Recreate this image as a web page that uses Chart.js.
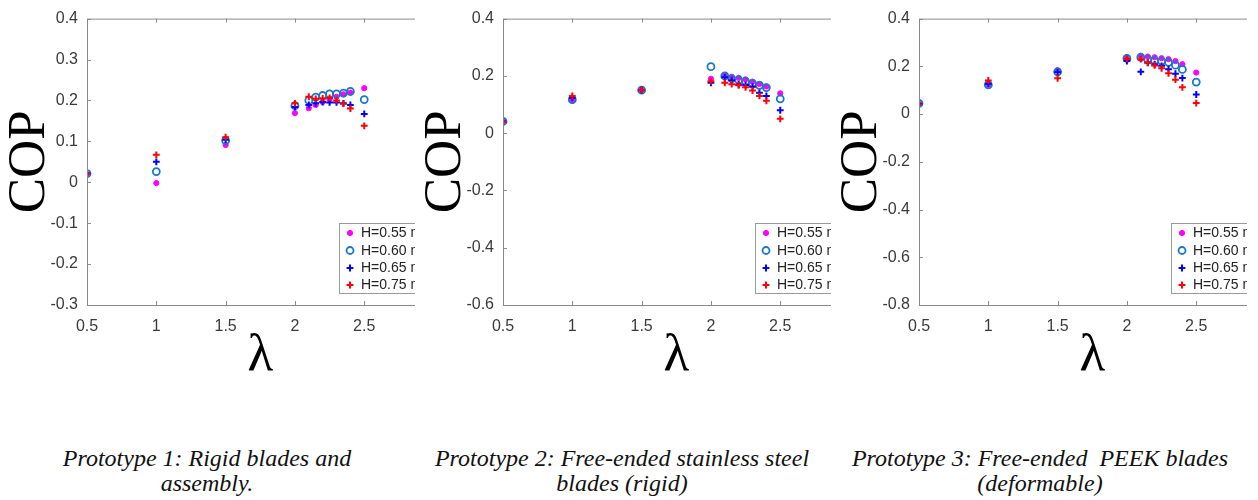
<!DOCTYPE html>
<html>
<head>
<meta charset="utf-8">
<script src="https://cdn.jsdelivr.net/npm/chart.js@4.4.1/dist/chart.umd.min.js"></script>
<style>
  html, body { margin: 0; padding: 0; background: #fff; }
  body { width: 1258px; height: 500px; position: relative; overflow: hidden; }
  .panel { position: absolute; top: 0; height: 400px; overflow: hidden; }
  .panel canvas { position: absolute; left: 0; top: 0; }
  .cap { position: absolute; font-family: "Liberation Serif", "Times New Roman", serif; font-style: italic;
         font-size: 24px; line-height: 25px; text-align: center; color: #111; white-space: pre; }
</style>
</head>
<body>
<div class="panel" id="p1" style="left:0px;width:415px;"><canvas id="c1" width="450" height="400"></canvas></div>
<div class="panel" id="p2" style="left:416px;width:415px;"><canvas id="c2" width="450" height="400"></canvas></div>
<div class="panel" id="p3" style="left:832px;width:415px;"><canvas id="c3" width="450" height="400"></canvas></div>

<div class="cap" style="left:-43px;top:446px;width:500px;">Prototype 1: Rigid blades and
assembly.</div>
<div class="cap" style="left:372px;top:446px;width:500px;">Prototype 2: Free-ended stainless steel
blades (rigid)</div>
<div class="cap" style="left:790px;top:446px;width:500px;">Prototype 3: Free-ended  PEEK blades
(deformable)</div>

<script>
// ---- data ----
const lambdas = [0.5, 1, 1.5, 2, 2.1, 2.15, 2.2, 2.25, 2.3, 2.35, 2.4, 2.5];
const seriesNames = ["H=0.55 m", "H=0.60 m", "H=0.65 m", "H=0.75 m"];

// Prototype 1
const p1_H055 = [0.020, -0.002, 0.091, 0.169, 0.181, 0.189, 0.196, 0.203, 0.209, 0.215, 0.219, 0.230];
const p1_H060 = [0.021, 0.026, 0.102, 0.187, 0.200, 0.208, 0.212, 0.216, 0.216, 0.218, 0.222, 0.202];
const p1_H065 = [0.022, 0.050, 0.104, 0.184, 0.189, 0.193, 0.196, 0.195, 0.195, 0.193, 0.189, 0.167];
const p1_H075 = [0.022, 0.067, 0.110, 0.193, 0.209, 0.204, 0.205, 0.206, 0.200, 0.192, 0.180, 0.138];

// Prototype 2
const p2_H055 = [0.041, 0.113, 0.151, 0.190, 0.203, 0.197, 0.193, 0.188, 0.180, 0.172, 0.163, 0.139];
const p2_H060 = [0.041, 0.117, 0.150, 0.232, 0.200, 0.190, 0.186, 0.181, 0.174, 0.167, 0.159, 0.120];
const p2_H065 = [0.041, 0.123, 0.150, 0.176, 0.195, 0.185, 0.170, 0.168, 0.162, 0.141, 0.130, 0.080];
const p2_H075 = [0.040, 0.130, 0.151, 0.181, 0.176, 0.171, 0.167, 0.160, 0.149, 0.130, 0.113, 0.050];

// Prototype 3
const p3_H055 = [0.043, 0.123, 0.184, 0.238, 0.244, 0.241, 0.238, 0.234, 0.230, 0.222, 0.209, 0.174];
const p3_H060 = [0.045, 0.122, 0.177, 0.233, 0.238, 0.230, 0.224, 0.222, 0.217, 0.205, 0.187, 0.134];
const p3_H065 = [0.043, 0.127, 0.175, 0.222, 0.177, 0.215, 0.208, 0.202, 0.188, 0.169, 0.151, 0.082];
const p3_H075 = [0.040, 0.141, 0.150, 0.231, 0.230, 0.216, 0.204, 0.192, 0.171, 0.144, 0.112, 0.046];

// tick labels
const xTicks = [0.5, 1, 1.5, 2, 2.5, 3];
const yTicks1 = [-0.3, -0.2, -0.1, 0, 0.1, 0.2, 0.3, 0.4];
const yTicks2 = [-0.6, -0.4, -0.2, 0, 0.2, 0.4];
const yTicks3 = [-0.8, -0.6, -0.4, -0.2, 0, 0.2, 0.4];

// ---- styles ----
const AXIS = '#8a8a8a';
const LABEL = '#3a3a3a';
const styles = [
  { pointStyle: 'circle', pointRadius: 2.6, backgroundColor: '#ff00ff', borderColor: '#ff00ff', pointBorderWidth: 1, order: 3 },
  { pointStyle: 'circle', pointRadius: 3.5, backgroundColor: 'rgba(0,0,0,0)', borderColor: '#1a78c2', pointBorderWidth: 1.8, order: 2 },
  { pointStyle: 'cross', pointRadius: 3.4, backgroundColor: '#0000ff', borderColor: '#0000ff', pointBorderWidth: 2, order: 1 },
  { pointStyle: 'cross', pointRadius: 3.4, backgroundColor: '#ff0000', borderColor: '#ff0000', pointBorderWidth: 2, order: 0 }
];

const fmt = v => String(+(+v).toFixed(1));

const boxPlugin = {
  id: 'matlabBox',
  afterDatasetsDraw(chart) {
    const { ctx, chartArea: a, scales } = chart;
    ctx.save();
    ctx.strokeStyle = AXIS;
    ctx.lineWidth = 1;
    ctx.beginPath();
    ctx.moveTo(a.left + 0.5, a.top + 0.5); ctx.lineTo(a.right + 0.5, a.top + 0.5);
    ctx.moveTo(a.left + 0.5, a.top + 0.5); ctx.lineTo(a.left + 0.5, a.bottom + 0.5);
    ctx.moveTo(a.left + 0.5, a.bottom + 0.5); ctx.lineTo(a.right + 0.5, a.bottom + 0.5);
    ctx.moveTo(a.right + 0.5, a.top + 0.5); ctx.lineTo(a.right + 0.5, a.bottom + 0.5);
    const tl = 4;
    scales.x.ticks.forEach(t => {
      const px = Math.round(scales.x.getPixelForValue(t.value)) + 0.5;
      ctx.moveTo(px, a.bottom); ctx.lineTo(px, a.bottom - tl);
      ctx.moveTo(px, a.top); ctx.lineTo(px, a.top + tl);
    });
    scales.y.ticks.forEach(t => {
      const py = Math.round(scales.y.getPixelForValue(t.value)) + 0.5;
      ctx.moveTo(a.left, py); ctx.lineTo(a.left + tl, py);
      ctx.moveTo(a.right, py); ctx.lineTo(a.right - tl, py);
    });
    ctx.stroke();
    ctx.restore();
  }
};

const legendPlugin = {
  id: 'insideLegend',
  afterDraw(chart) {
    const { ctx, chartArea: a } = chart;
    const bx = a.left + 252, bw = 89, bh = 70;
    const by = a.bottom - 12 - bh;
    ctx.save();
    ctx.fillStyle = '#fff';
    ctx.fillRect(bx, by, bw, bh);
    ctx.strokeStyle = '#9a9a9a';
    ctx.lineWidth = 1;
    ctx.strokeRect(bx + 0.5, by + 0.5, bw, bh);
    const rows = [10, 27.5, 45, 62];
    chart.data.datasets.forEach((ds, i) => {
      const cy = by + rows[i];
      const mx = bx + 11;
      ctx.fillStyle = ds.backgroundColor;
      ctx.strokeStyle = ds.borderColor;
      ctx.lineWidth = ds.pointBorderWidth;
      ctx.beginPath();
      if (ds.pointStyle === 'circle') {
        ctx.arc(mx, cy, ds.pointRadius, 0, Math.PI * 2);
        ctx.fill(); ctx.stroke();
      } else {
        const r = ds.pointRadius;
        ctx.moveTo(mx - r, cy); ctx.lineTo(mx + r, cy);
        ctx.moveTo(mx, cy - r); ctx.lineTo(mx, cy + r);
        ctx.stroke();
      }
      ctx.fillStyle = '#222';
      ctx.font = '14px "Liberation Sans", Arial, sans-serif';
      ctx.textBaseline = 'middle';
      ctx.textAlign = 'left';
      ctx.fillText(seriesNames[i], bx + 22, cy + 0.5);
    });
    ctx.restore();
  }
};

function makeChart(id, series, yTicks) {
  const datasets = series.map((vals, i) => Object.assign({
    label: seriesNames[i],
    data: lambdas.map((x, k) => ({ x: x, y: vals[k] })),
    showLine: false
  }, styles[i]));
  return new Chart(document.getElementById(id), {
    type: 'scatter',
    data: { datasets },
    options: {
      responsive: false,
      animation: false,
      devicePixelRatio: 1,
      layout: { padding: { top: 18, right: 12, left: 0, bottom: 0 } },
      plugins: { legend: { display: false }, tooltip: { enabled: false } },
      scales: {
        x: {
          type: 'linear', min: 0.5, max: 3,
          afterBuildTicks: s => { s.ticks = xTicks.map(v => ({ value: v })); },
          afterFit: s => { s.height = 95; },
          grid: { display: false, drawTicks: false },
          border: { display: false },
          ticks: { callback: fmt, color: LABEL, padding: 12, maxRotation: 0, autoSkip: false,
                   font: { family: '"Liberation Sans", Arial, sans-serif', size: 16 } },
          title: { display: true, text: 'λ', color: '#000', padding: { top: 0, bottom: 17 },
                   font: { family: '"Liberation Serif", "Times New Roman", serif', size: 53, lineHeight: 1 } }
        },
        y: {
          type: 'linear', min: yTicks[0], max: yTicks[yTicks.length - 1],
          afterBuildTicks: s => { s.ticks = yTicks.map(v => ({ value: v })); },
          afterFit: s => { s.width = 87; },
          grid: { display: false, drawTicks: false },
          border: { display: false },
          ticks: { callback: fmt, color: LABEL, padding: 9, autoSkip: false,
                   font: { family: '"Liberation Sans", Arial, sans-serif', size: 16 } },
          title: { display: true, text: 'COP', color: '#000', padding: { top: 3.5, bottom: 0 },
                   font: { family: '"Liberation Serif", "Times New Roman", serif', size: 53, lineHeight: 1 } }
        }
      }
    },
    plugins: [boxPlugin, legendPlugin]
  });
}

makeChart('c1', [p1_H055, p1_H060, p1_H065, p1_H075], yTicks1);
makeChart('c2', [p2_H055, p2_H060, p2_H065, p2_H075], yTicks2);
makeChart('c3', [p3_H055, p3_H060, p3_H065, p3_H075], yTicks3);
</script>
</body>
</html>
